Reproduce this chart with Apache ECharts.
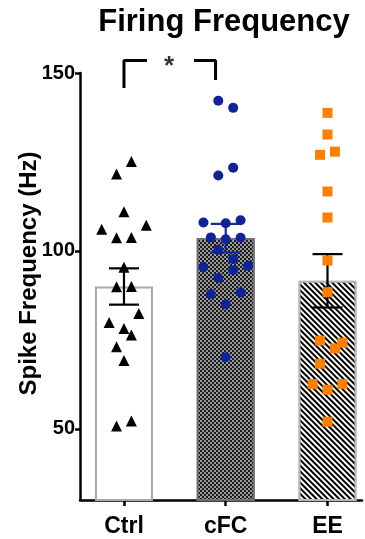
<!DOCTYPE html>
<html>
<head>
<meta charset="utf-8">
<script src="https://cdn.jsdelivr.net/npm/echarts@6/dist/echarts.min.js"></script>
<style>html,body{margin:0;padding:0;background:#fff;}#c{width:365px;height:539px;}</style>
</head>
<body>
<div id="c"></div>
<script>
// ---- data ----
const categories = ['Ctrl', 'cFC', 'EE'];
const means = [90.0, 103.6, 91.6];
const sems = [5.1, 4.0, 7.5];
const ctrlValues = [125.1,121.6,111.0,106.1,107.2,103.7,103.8,95.4,89.9,90.0,82.4,79.9,78.2,76.4,73.1,69.2,50.8,52.2];
const ctrlJitter = [1,-1,0,-3,3,-1,1,0,-1,1,2,-2,0,1,-1,0,-1,1];
const cfcValues = [142.2,140.2,123.4,121.2,108.0,107.8,108.6,103.8,103.3,103.7,100.3,97.7,95.5,94.6,95.8,92.4,87.9,88.4,85.0,70.1];
const cfcJitter = [-1,1,1,-1,-3,0,2,-2,0,2,-1,1,-3,1,3,-1,-2,2,0,0];
const eeValues = [138.8,132.7,127.0,127.9,116.7,109.4,97.3,88.4,74.8,74.2,72.6,68.3,62.6,62.6,61.0,52.0];
const eeJitter = [0,0,-1,1,0,0,0,0,-1,2,1,-1,-2,2,0,0];
const yTicks = [50, 100, 150];
// significance bracket (category units, Hz)
const bracketLeftX = [0, 0, 0.226];
const bracketLeftY = [145.8, 153.5, 153.5];
const bracketRightX = [0.688, 0.9, 0.9];
const bracketRightY = [153.5, 153.5, 148.0];
const starPos = [0.442, 151.6];

const jitterStep = 0.073;
function pts(idx, vals, jit) { return vals.map((v, i) => [idx + jit[i] * jitterStep, v]); }

const chart = echarts.init(document.getElementById('c'), null, {renderer: 'canvas'});
const F = 'Liberation Sans, Arial, sans-serif';
const barStyles = [
  {color: '#ffffff', borderColor: '#a8a8a8', borderWidth: 2},
  {color: '#9a9a9a', borderColor: '#707070', borderWidth: 2,
   decal: {symbol: 'rect', dashArrayX: [[2, 2], [0, 2, 2, 0]], dashArrayY: [2, 0], color: '#1a1a1a', rotation: 0, symbolSize: 1}},
  {color: '#ffffff', borderColor: '#b8b8b8', borderWidth: 2,
   decal: {symbol: 'rect', dashArrayX: [1, 0], dashArrayY: [2, 2], color: '#000000', rotation: Math.PI / 4, symbolSize: 1}}
];
const errColors = ['#000000', '#1c2b8f', '#000000'];

const option = {
  backgroundColor: '#ffffff',
  animation: false,
  title: {text: 'Firing Frequency', left: 219, top: 2, textAlign: 'center',
    textStyle: {fontFamily: F, fontWeight: 'bold', fontSize: 31, color: '#000'}},
  grid: {left: 80, right: 3, top: 73, bottom: 39},
  xAxis: {
    type: 'value', min: -0.432, max: 2.339,
    splitLine: {show: false},
    axisLine: {show: true, onZero: false, lineStyle: {color: '#000', width: 2.5}},
    axisTick: {show: true, length: 6, lineStyle: {color: '#000', width: 2.5}, customValues: [0, 1, 2]},
    axisLabel: {customValues: [0, 1, 2], formatter: v => categories[Math.round(v)], margin: 15,
      fontFamily: F, fontWeight: 'bold', fontSize: 23, color: '#000'}
  },
  yAxis: {
    type: 'value', min: 30, max: 150,
    name: 'Spike Frequency (Hz)', nameLocation: 'middle', nameGap: 39, nameMoveOverlap: false,
    nameTextStyle: {fontFamily: F, fontWeight: 'bold', fontSize: 24, color: '#000', padding: [0, 0, 0, 26]},
    splitLine: {show: false},
    axisLine: {show: true, onZero: false, lineStyle: {color: '#000', width: 2.5}},
    axisTick: {show: true, length: 5, lineStyle: {color: '#000', width: 2.5}, customValues: yTicks},
    axisLabel: {customValues: yTicks, margin: 5, fontFamily: F, fontWeight: 'bold', fontSize: 20, color: '#000'}
  },
  series: [
    {type: 'bar', barWidth: 58, z: 1,
     data: means.map((m, i) => ({value: [i, m], itemStyle: barStyles[i]}))},
    {type: 'custom', z: 3,
     data: means.map((m, i) => [i, m, sems[i]]),
     renderItem: function (params, api) {
       const x = api.value(0), m = api.value(1), s = api.value(2);
       const t = api.coord([x, m + s]), b = api.coord([x, m - s]);
       const col = errColors[params.dataIndex];
       const st = {stroke: col, lineWidth: 2.2};
       return {type: 'group', children: [
         {type: 'line', shape: {x1: t[0], y1: t[1], x2: b[0], y2: b[1]}, style: st},
         {type: 'line', shape: {x1: t[0] - 15, y1: t[1], x2: t[0] + 15, y2: t[1]}, style: st},
         {type: 'line', shape: {x1: b[0] - 15, y1: b[1], x2: b[0] + 15, y2: b[1]}, style: st}
       ]};
     }},
    {type: 'scatter', z: 4, symbol: 'triangle', symbolSize: 11, itemStyle: {color: '#000', opacity: 1}, data: pts(0, ctrlValues, ctrlJitter)},
    {type: 'scatter', z: 4, symbol: 'circle', symbolSize: 10, itemStyle: {color: '#0f2597', opacity: 1}, data: pts(1, cfcValues, cfcJitter)},
    {type: 'scatter', z: 4, symbol: 'rect', symbolSize: 10, itemStyle: {color: '#ff7f00', opacity: 1}, data: pts(2, eeValues, eeJitter)},
    {type: 'line', clip: false, symbol: 'none', lineStyle: {color: '#000', width: 3}, z: 5,
     data: bracketLeftX.map((x, i) => [x, bracketLeftY[i]])},
    {type: 'line', clip: false, symbol: 'none', lineStyle: {color: '#000', width: 3}, z: 5,
     data: bracketRightX.map((x, i) => [x, bracketRightY[i]])},
    {type: 'scatter', clip: false, symbolSize: 0, z: 5,
     label: {show: true, formatter: '*', position: 'inside', fontFamily: F, fontWeight: 'bold', fontSize: 26, color: '#000'},
     data: [starPos]}
  ]
};
chart.setOption(option);
</script>
</body>
</html>
